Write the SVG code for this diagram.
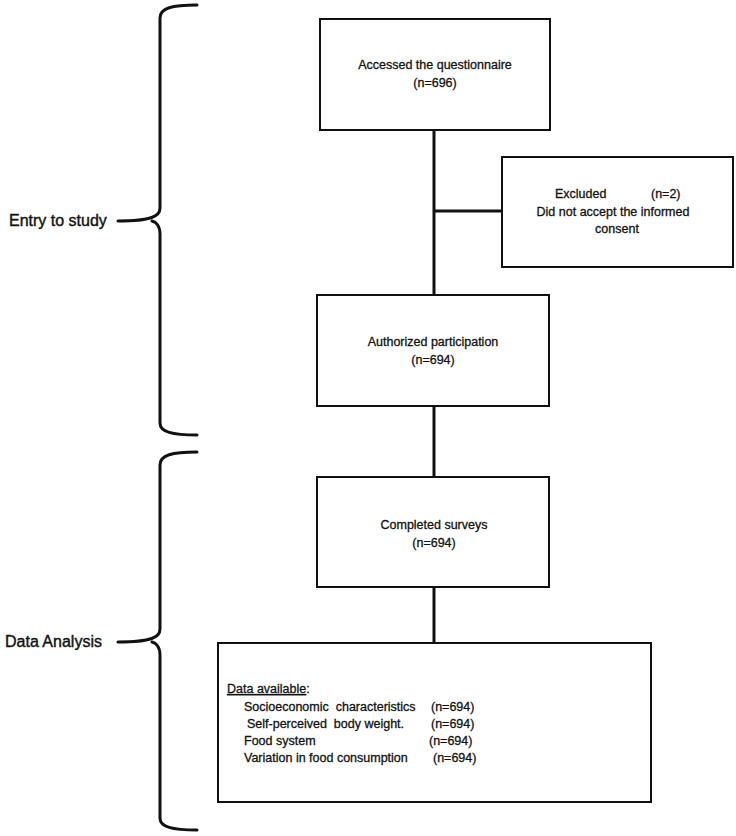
<svg xmlns="http://www.w3.org/2000/svg" width="736" height="836" viewBox="0 0 736 836">
<style>
.box{fill:#fff;stroke:#111;stroke-width:2}
.t{font-family:"Liberation Sans",Arial,sans-serif;font-size:12.5px;fill:#111;stroke:#111;stroke-width:0.3}
.lbl{font-family:"Liberation Sans",Arial,sans-serif;font-size:16px;fill:#111;stroke:#111;stroke-width:0.4}
.c{text-anchor:middle}
.ln{stroke:#111;stroke-width:3;fill:none}
.br{stroke:#111;stroke-width:3;fill:none;stroke-linecap:round}
</style>
<rect width="736" height="836" fill="#fff"/>
<g id="connectors">
<line class="ln" x1="434" y1="130" x2="434" y2="295"/>
<line class="ln" x1="434" y1="211" x2="502" y2="211"/>
<line class="ln" x1="434" y1="406" x2="434" y2="477"/>
<line class="ln" x1="434" y1="587" x2="434" y2="643"/>
</g>
<g id="brace-entry">
<path class="br" d="M197,5 C172,5 160,8 160,18 L160,208 C160,216 152,221 118,221 M152,221 C156,222 160,226 160,234 L160,423 C160,432 172,435 197,435"/>
<text class="lbl" x="9" y="226">Entry to study</text>
</g>
<g id="brace-analysis">
<path class="br" d="M197,452 C172,452 160,455 160,465 L160,629 C160,637 152,642 118,642 M152,642 C156,643 160,647 160,655 L160,818 C160,827 172,830 197,830"/>
<text class="lbl" x="5" y="647">Data Analysis</text>
</g>
<g id="n1">
<rect class="box" x="320" y="19" width="230" height="111"/>
<text class="t c" x="435" y="69">Accessed the questionnaire</text>
<text class="t c" x="435" y="87">(n=696)</text>
</g>
<g id="n2">
<rect class="box" x="502" y="157" width="231" height="110"/>
<text class="t" x="555" y="198">Excluded</text>
<text class="t" x="651" y="198">(n=2)</text>
<text class="t c" x="613" y="216">Did not accept the informed</text>
<text class="t c" x="617" y="233">consent</text>
</g>
<g id="n3">
<rect class="box" x="317" y="295" width="232" height="111"/>
<text class="t c" x="433" y="346">Authorized participation</text>
<text class="t c" x="433" y="364">(n=694)</text>
</g>
<g id="n4">
<rect class="box" x="317" y="477" width="232" height="110"/>
<text class="t c" x="434" y="529">Completed surveys</text>
<text class="t c" x="434" y="547">(n=694)</text>
</g>
<g id="n5">
<rect class="box" x="218" y="643" width="433" height="159"/>
<text class="t" x="227" y="693"><tspan text-decoration="underline">Data available</tspan>:</text>
<text class="t" x="244" y="711" xml:space="preserve">Socioeconomic  characteristics</text>
<text class="t" x="431" y="711">(n=694)</text>
<text class="t" x="247" y="728" xml:space="preserve">Self-perceived  body weight.</text>
<text class="t" x="431" y="728">(n=694)</text>
<text class="t" x="244" y="745">Food system</text>
<text class="t" x="429" y="745">(n=694)</text>
<text class="t" x="244" y="762">Variation in food consumption</text>
<text class="t" x="433" y="762">(n=694)</text>
</g>
</svg>
